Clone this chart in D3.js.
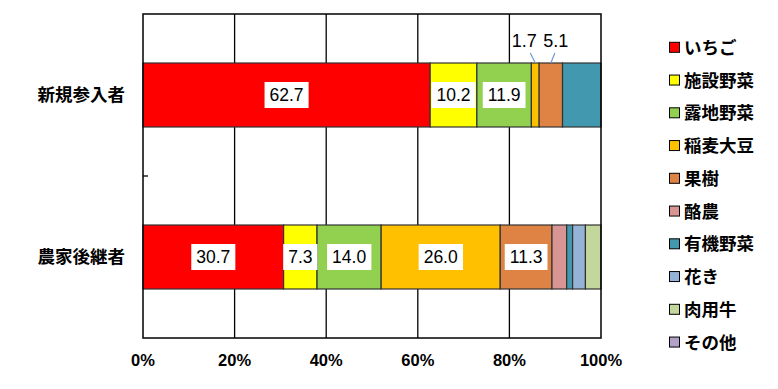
<!DOCTYPE html>
<html><head><meta charset="utf-8">
<script src="https://cdn.jsdelivr.net/npm/d3@7"></script>
<style>body{margin:0;background:#fff}svg{display:block}</style>
</head><body><div id="chart"></div>
<script>
const categories = ["新規参入者", "農家後継者"];
const seriesNames = ["いちご","施設野菜","露地野菜","稲麦大豆","果樹","酪農","有機野菜","花き","肉用牛","その他"];
const colors = ["#FF0000","#FFFF00","#92D050","#FFC000","#DE8344","#D99594","#4298AE","#95B3D7","#C3D69B","#B2A1C7"];
const newEntrants = [62.7,10.2,11.9,1.7,5.1,0,8.4,0,0,0];
const successors  = [30.7,7.3,14.0,26.0,11.3,3.2,1.3,2.8,3.4,0];
const shownTop = ["62.7","10.2","11.9","1.7","5.1",null,null,null,null,null];
const shownBottom = ["30.7","7.3","14.0","26.0","11.3",null,null,null,null,null];
const outsideTop = [false,false,false,true,true,false,false,false,false,false];
const xTicks = [0,20,40,60,80,100];

const W=778,H=389;
const m={l:143,r:177,t:14,b:51};
const svg=d3.select("#chart").append("svg").attr("width",W).attr("height",H);
const x=d3.scaleLinear().domain([0,100]).range([m.l,W-m.r]);
const y=d3.scaleBand().domain(categories).range([m.t,H-m.b]).paddingInner(0.605).paddingOuter(0.3025);
const jp="'Noto Sans CJK JP','Noto Sans',sans-serif";
const num="'Liberation Sans',Arial,sans-serif";

// grid
svg.append("g").selectAll("line").data(xTicks.slice(1,-1)).join("line")
 .attr("x1",d=>x(d)).attr("x2",d=>x(d)).attr("y1",m.t).attr("y2",H-m.b)
 .attr("stroke","#000").attr("stroke-width",1.3);

const data=[newEntrants,successors];
const labels=[shownTop,shownBottom];
data.forEach((vals,ci)=>{
  let cum=0;
  const segs=vals.map((v,i)=>{const s={v,i,x0:cum,x1:cum+v};cum+=v;return s;}).filter(s=>s.v>0);
  svg.append("g").selectAll("rect").data(segs).join("rect")
   .attr("x",d=>x(d.x0)).attr("width",d=>x(d.x1)-x(d.x0))
   .attr("y",y(categories[ci])).attr("height",y.bandwidth())
   .attr("fill",d=>colors[d.i]).attr("stroke","#333").attr("stroke-width",1.2);
});

// axis box
svg.append("rect").attr("x",m.l).attr("y",m.t).attr("width",x(100)-m.l).attr("height",H-m.b-m.t)
 .attr("fill","none").attr("stroke","#000").attr("stroke-width",1.5);
const midY=(y(categories[0])+y.bandwidth()+y(categories[1]))/2;
svg.append("line").attr("x1",m.l).attr("x2",m.l+5).attr("y1",midY).attr("y2",midY).attr("stroke","#000").attr("stroke-width",1.3);

// value labels
const lblG=svg.append("g");
data.forEach((vals,ci)=>{
  let cum=0;
  vals.forEach((v,i)=>{
    const x0=cum; cum+=v;
    const lab=labels[ci][i];
    if(!lab) return;
    const cx=x((x0+cum)/2);
    const top=y(categories[ci]);
    const cy=top+y.bandwidth()/2;
    if(ci===0 && outsideTop[i]){
      const tx = i===3 ? cx-11 : cx+5;
      const lx = i===3 ? cx-5 : cx+4;
      lblG.append("line").attr("x1",lx).attr("y1",top-10).attr("x2",cx).attr("y2",top)
        .attr("stroke","#6C9BD2").attr("stroke-width",1.2);
      lblG.append("text").attr("x",tx).attr("y",top-16).attr("text-anchor","middle")
        .attr("font-family",num).attr("font-size",18).attr("fill","#000").text(lab);
      return;
    }
    const t=lblG.append("text").attr("x",cx).attr("y",cy+6).attr("text-anchor","middle")
      .attr("font-family",num).attr("font-size",17.5).attr("fill","#000").text(lab);
    const bb=t.node().getBBox();
    lblG.insert("rect",()=>t.node()).attr("x",bb.x-5).attr("y",cy-13).attr("width",bb.width+10).attr("height",26).attr("fill","#fff");
  });
});

// category labels
svg.append("g").selectAll("text").data(categories).join("text")
 .attr("x",125).attr("y",d=>y(d)+y.bandwidth()/2+6).attr("text-anchor","end")
 .attr("font-family",jp).attr("font-weight","bold").attr("font-size",17.5).text(d=>d);

// x tick labels
svg.append("g").selectAll("text").data(xTicks).join("text")
 .attr("x",d=>x(d)).attr("y",366).attr("text-anchor","middle")
 .attr("font-family",num).attr("font-weight","bold").attr("font-size",16.5).text(d=>d+"%");

// legend
const lg=svg.append("g");
seriesNames.forEach((n,i)=>{
  const ly=47.3+i*32.75;
  lg.append("rect").attr("x",669.5).attr("y",ly-5).attr("width",10).attr("height",10)
    .attr("fill",colors[i]).attr("stroke","#000").attr("stroke-width",1);
  lg.append("text").attr("x",684).attr("y",ly+6.5).attr("font-family",jp).attr("font-weight","bold")
    .attr("font-size",17.5).text(n);
});
</script></body></html>
